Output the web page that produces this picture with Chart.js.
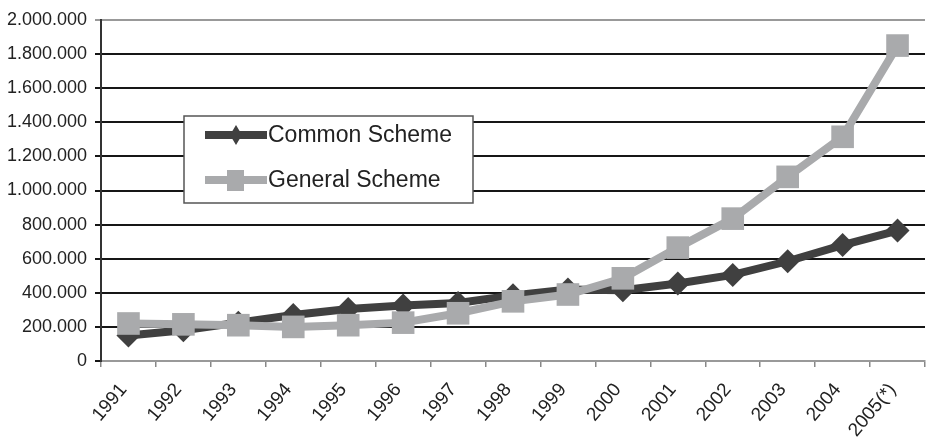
<!DOCTYPE html>
<html>
<head>
<meta charset="utf-8">
<script src="https://cdn.jsdelivr.net/npm/chart.js@4.4.1/dist/chart.umd.min.js"></script>
<style>
  html, body { margin: 0; padding: 0; background: #fff; }
  #wrap { width: 941px; height: 442px; position: relative; }
</style>
</head>
<body>
<div id="wrap"><canvas id="chart" width="941" height="442"></canvas></div>
<script>
var years = ['1991', '1992', '1993', '1994', '1995', '1996', '1997', '1998',
             '1999', '2000', '2001', '2002', '2003', '2004', '2005(*)'];
var common_scheme = [150000, 180000, 225000, 270000, 305000, 325000, 340000, 385000,
                     420000, 415000, 455000, 505000, 585000, 680000, 765000];
var general_scheme = [220000, 215000, 210000, 200000, 210000, 225000, 280000, 350000,
                      390000, 485000, 665000, 835000, 1080000, 1315000, 1850000];
var series_names = ['Common Scheme', 'General Scheme'];

var dark = '#404040';
var light = '#a9aaac';

function dotted(v)
{
    return String(v).replace(/\B(?=(\d{3})+(?!\d))/g, '.');
}

// legend box drawn inside the plot, like the original
const box_legend = {
    id: 'box_legend',
    afterDraw(chart) {
        const ctx = chart.ctx;
        ctx.save();
        ctx.fillStyle = '#fff';
        ctx.fillRect(184, 116, 289, 87);
        ctx.strokeStyle = '#555';
        ctx.lineWidth = 1.5;
        ctx.strokeRect(184, 116, 289, 87);

        var rows = [
            {y: 135, color: dark, shape: 'diamond'},
            {y: 180, color: light, shape: 'square'}
        ];
        for (let i = 0; i < rows.length; i++) {
            var r = rows[i];
            ctx.strokeStyle = r.color;
            ctx.fillStyle = r.color;
            ctx.lineWidth = 8;
            ctx.beginPath();
            ctx.moveTo(205, r.y);
            ctx.lineTo(267, r.y);
            ctx.stroke();
            ctx.beginPath();
            if (r.shape === 'diamond') {
                ctx.moveTo(236, r.y - 10);
                ctx.lineTo(242, r.y);
                ctx.lineTo(236, r.y + 10);
                ctx.lineTo(230, r.y);
            } else {
                ctx.rect(227, r.y - 10, 17, 21);
            }
            ctx.closePath();
            ctx.fill();

            ctx.fillStyle = '#222';
            ctx.font = '23px "Liberation Sans", Arial, sans-serif';
            ctx.textBaseline = 'middle';
            ctx.fillText(series_names[i], 268, r.y + 1);
        }
        ctx.restore();
    }
};

const ctx = document.getElementById('chart').getContext('2d');
const chart = new Chart(ctx, {
    type: 'line',
    data: {
        labels: years,
        datasets: [{
            label: series_names[0],
            data: common_scheme,
            borderColor: dark,
            backgroundColor: dark,
            borderWidth: 8,
            pointStyle: 'rectRot',
            pointRadius: 12,
            pointBorderWidth: 0,
            order: 1
        }, {
            label: series_names[1],
            data: general_scheme,
            borderColor: light,
            backgroundColor: light,
            borderWidth: 8,
            pointStyle: 'rect',
            pointRadius: 16,
            pointBorderWidth: 0,
            order: 0
        }]
    },
    options: {
        responsive: false,
        animation: false,
        events: [],
        layout: {
            padding: {top: 20, right: 1, left: 0, bottom: 0}
        },
        plugins: {
            legend: {display: false},
            tooltip: {enabled: false}
        },
        scales: {
            x: {
                offset: true,
                grid: {
                    offset: true,
                    drawOnChartArea: false,
                    drawTicks: true,
                    tickLength: 6,
                    color: '#888',
                    lineWidth: 1.5
                },
                border: {color: '#999', width: 2},
                ticks: {
                    minRotation: 50,
                    maxRotation: 50,
                    padding: 12,
                    labelOffset: -5,
                    color: '#222',
                    font: {family: '"Liberation Sans", Arial, sans-serif', size: 19}
                },
                afterFit: function (s) { s.height = 81; }
            },
            y: {
                min: 0,
                max: 2000000,
                ticks: {
                    stepSize: 200000,
                    padding: 8,
                    color: '#222',
                    font: {family: '"Liberation Sans", Arial, sans-serif', size: 18},
                    callback: function (v) { return dotted(v); }
                },
                grid: {
                    color: function (c) { return c.tick && c.tick.value === 2000000 ? '#999' : '#161616'; },
                    lineWidth: 2,
                    tickLength: 6
                },
                border: {color: '#333', width: 2},
                afterFit: function (s) { s.width = 101; }
            }
        }
    },
    plugins: [box_legend]
});
</script>
</body>
</html>
